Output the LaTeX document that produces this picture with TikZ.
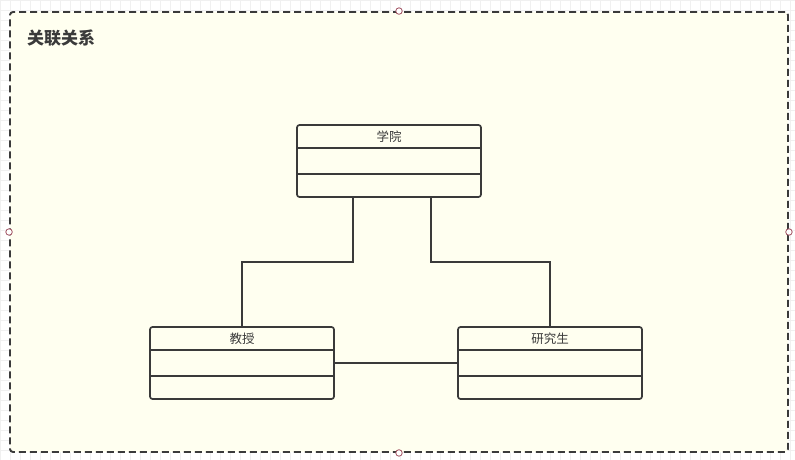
\documentclass[tikz,border=0pt]{standalone}
\usepackage{fontspec}
\setmainfont{Noto Sans CJK SC}
\usepackage{xcolor}
\usetikzlibrary{positioning}
\definecolor{ivory}{HTML}{FFFFF0}
\definecolor{ink}{HTML}{3A3A3A}
\definecolor{handle}{HTML}{A05060}

\begin{document}
\begin{tikzpicture}[
        x=1pt, y=-1pt,
        frame/.style={rectangle, draw=ink, fill=ivory, dash pattern=on 7pt off 4pt, line width=1.9pt, rounded corners=3pt, minimum width=778pt, minimum height=440pt, inner sep=0pt},
        umlclass/.style={rectangle, draw=ink, fill=ivory, line width=1.7pt, rounded corners=2.5pt, minimum width=184pt, minimum height=72pt, inner sep=0pt},
        conn/.style={draw=ink, line width=1.7pt},
        grip/.style={circle, draw=handle, fill=white, line width=0.8pt, minimum size=6.5pt, inner sep=0pt}
    ]
        \useasboundingbox (0,0) rectangle (795,460);

        % ================= FONDO =================
        \draw[black!6, line width=0.4pt] (0,0) grid[step=10pt] (795,460);
        \node[frame] (frame) at (399,232) {};
        \node[font=\bfseries\fontsize{17}{19}\selectfont, text=ink, anchor=west, inner sep=0pt] (title) at (27,38) {关联关系};

        % ================= CLASES =================
        \node[umlclass] (xueyuan) at (389,161) {};
        \node[umlclass] (jiaoshou) at (242,363) {};
        \node[umlclass] (yjs) at (550,363) {};

        % compartimentos
        \foreach \c/\t in {xueyuan/学院, jiaoshou/教授, yjs/研究生} {
            \draw[conn] ([yshift=-24pt]\c.north west) -- ([yshift=-24pt]\c.north east);
            \draw[conn] ([yshift=24pt]\c.south west) -- ([yshift=24pt]\c.south east);
            \node[font=\fontsize{12.5}{14}\selectfont, text=ink] (\c-name) at ([yshift=-13pt]\c.north) {\t};
        }

        % ================= ASOCIACIONES =================
        \draw[conn] ([xshift=-36pt]xueyuan.south) -- ++(0,-64pt) -| (jiaoshou.north);
        \draw[conn] ([xshift=42pt]xueyuan.south) -- ++(0,-64pt) -| (yjs.north);
        \draw[conn] (jiaoshou.east) -- (yjs.west);

        % asas de seleccion
        \foreach \a in {north, south, east, west}
            \node[grip] (grip-\a) at (frame.\a) {};
    \end{tikzpicture}
\end{document}
